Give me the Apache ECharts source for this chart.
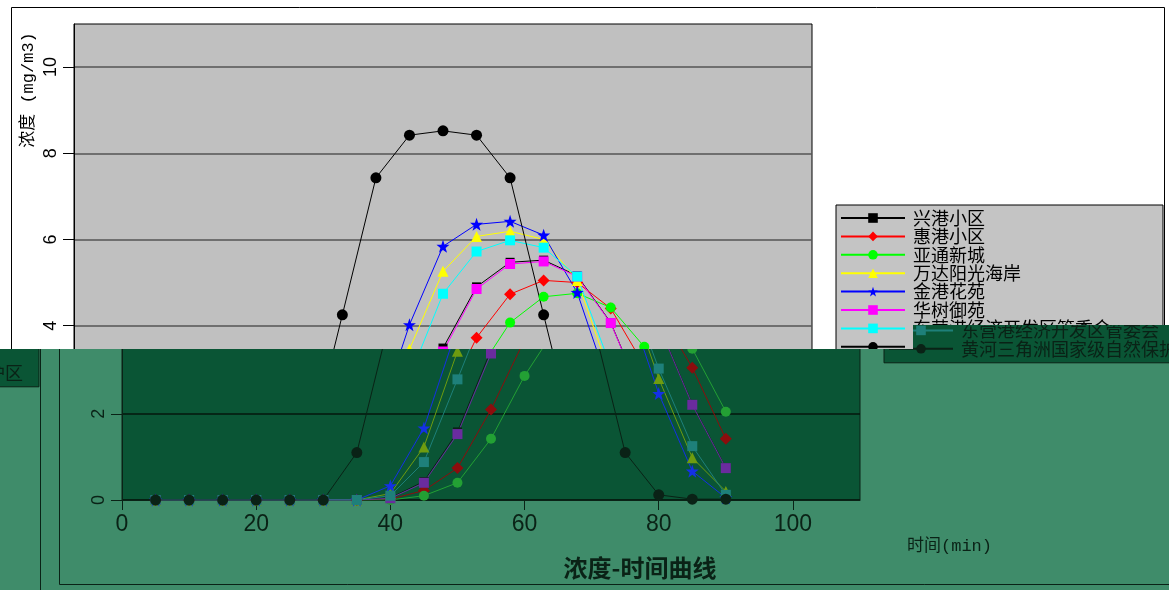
<!DOCTYPE html>
<html><head><meta charset="utf-8">
<script src="https://cdn.jsdelivr.net/npm/echarts@6/dist/echarts.min.js"></script>
<style>
html,body{margin:0;padding:0;width:1169px;height:590px;overflow:hidden;background:#fff}
.c{position:absolute;width:1169px;height:590px}
#low{position:absolute;left:0;top:0;width:1169px;height:590px;overflow:hidden;background:#3f8c6a;
clip-path:polygon(0px 349px,913px 349px,913px 325px,1169px 325px,1169px 590px,0px 590px)}
</style></head><body>
<div id="top" class="c" style="left:0;top:0"></div>
<div id="low">
  <div id="lowA" class="c" style="left:48px;top:2px"></div>
  <div id="lowB" class="c" style="left:-1124px;top:26px"></div>
</div>
<script>
const times = [5,10,15,20,25,30,35,40,45,50,55,60,65,70,75,80,85,90];
const names = ['兴港小区','惠港小区','亚通新城','万达阳光海岸','金港花苑','华树御苑','东营港经济开发区管委会','黄河三角洲国家级自然保护区'];
const xingGang = [0,0,0,0,0,0,0,0.05,0.43,1.58,3.48,4.9,5.47,5.52,5.16,4.07,2.22,0.75];
const huiGang  = [0,0,0,0,0,0,0,0.02,0.22,0.74,2.1,3.72,4.73,5.05,5.0,4.4,3.07,1.42];
const yaTong   = [0,0,0,0,0,0,0,0,0.1,0.4,1.42,2.88,4.07,4.67,4.75,4.42,3.51,2.05];
const wanDa    = [0,0,0,0,0,0,0,0.15,1.23,3.45,5.26,6.07,6.19,6.0,5.05,2.82,0.98,0.2];
const jinGang  = [0,0,0,0,0,0,0,0.33,1.67,4.02,5.84,6.35,6.42,6.1,4.77,2.47,0.67,0.05];
const huaShu   = [0,0,0,0,0,0,0,0.04,0.4,1.53,3.4,4.85,5.43,5.49,5.14,4.06,2.21,0.74];
const dongYing = [0,0,0,0,0,0,0,0.1,0.88,2.8,4.74,5.72,5.98,5.81,5.14,3.05,1.25,0.12];
const huangHe  = [0,0,0,0,0,0,1.1,4.25,7.43,8.42,8.52,8.42,7.43,4.25,1.1,0.12,0.02,0.02];
const xTicks = [0,20,40,60,80,100];
const yTicks = [0,2,4,6,8,10];

const seriesData = [xingGang,huiGang,yaTong,wanDa,jinGang,huaShu,dongYing,huangHe];
const star = 'path://M0,-10L2.35,-3.24L9.51,-3.09L3.8,1.24L5.88,8.09L0,4L-5.88,8.09L-3.8,1.24L-9.51,-3.09L-2.35,-3.24Z';
const symbols = ['rect','diamond','circle','triangle',star,'rect','rect','circle'];
const sizes = [9,12,10,11,13,10,10,11];

const upper = {bg:'#ffffff', plot:'#c0c0c0', ink:'#000000', split:'#555555', legendBg:'#c4c4c4',
  colors:['#000000','#ff0000','#00ff00','#ffff00','#0000ff','#ff00ff','#00ffff','#000000']};
const lower = {bg:'#3f8c6a', plot:'#0a5535', ink:'#0a2216', split:'#04170d', legendBg:'#0a5535',
  colors:['#0a2216','#8c0d0d','#23a034','#6e9c10','#1430e6','#6a2c9e','#1e807a','#0a2216']};

function build(p){
  return {
    backgroundColor: p.bg,
    animation: false,
    grid: {left:74, top:24, width:738, height:474, show:true, backgroundColor:p.plot, borderColor:p.ink, borderWidth:1},
    xAxis: {type:'value', min:0, max:110,
      axisLine:{show:true, onZero:false, lineStyle:{color:p.ink, width:1}},
      axisTick:{show:true, length:10, customValues:xTicks, lineStyle:{color:p.ink}},
      axisLabel:{customValues:xTicks, color:p.ink, fontSize:23, fontFamily:'Liberation Sans', margin:13},
      splitLine:{show:false}},
    yAxis: {type:'value', min:0, max:11, interval:2,
      axisLine:{show:true, lineStyle:{color:p.ink, width:1}},
      axisTick:{show:true, length:11, customValues:yTicks, lineStyle:{color:p.ink}},
      axisLabel:{customValues:yTicks, rotate:90, color:p.ink, fontSize:18, fontFamily:'Liberation Sans', margin:14},
      splitLine:{show:true, lineStyle:{color:p.split, width:1.5}}},
    legend: {orient:'vertical', left:836, top:205, padding:[4,16,5,4],
      backgroundColor:p.legendBg, borderColor:p.ink, borderWidth:1,
      itemWidth:64, itemHeight:12, itemGap:0.4,
      textStyle:{fontSize:18, lineHeight:18, color:p.ink, fontFamily:'Noto Sans CJK SC', padding:[0,0,0,3]},
      data:names},
    graphic: [
      {type:'rect', silent:true, shape:{x:11.5, y:7.5, width:1153, height:575}, style:{fill:null, stroke:p.ink, lineWidth:1}},
      {type:'text', x:28, y:90, rotation:Math.PI/2, style:{text:'浓度 (mg/m3)', font:'17px "Liberation Mono","Noto Sans CJK SC"', fill:p.ink, align:'center', verticalAlign:'middle'}},
      {type:'text', x:859, y:544, style:{text:'时间(min)', font:'17px "Liberation Mono","Noto Sans CJK SC"', fill:p.ink, align:'left', verticalAlign:'middle'}},
      {type:'text', x:592, y:566, style:{text:'浓度-时间曲线', font:'bold 24px "Noto Sans CJK SC"', fill:p.ink, align:'center', verticalAlign:'middle'}}
    ],
    series: seriesData.map((arr,i)=>({
      type:'line', name:names[i],
      data: times.map((t,j)=>[t, arr[j]]),
      symbol: symbols[i], symbolSize: sizes[i],
      itemStyle:{color:p.colors[i]},
      lineStyle:{color:p.colors[i], width:1},
      emphasis:{disabled:true}
    }))
  };
}
echarts.init(document.getElementById('top')).setOption(build(upper));
echarts.init(document.getElementById('lowA')).setOption(build(lower));
echarts.init(document.getElementById('lowB')).setOption(build(lower));
</script>
</body></html>
